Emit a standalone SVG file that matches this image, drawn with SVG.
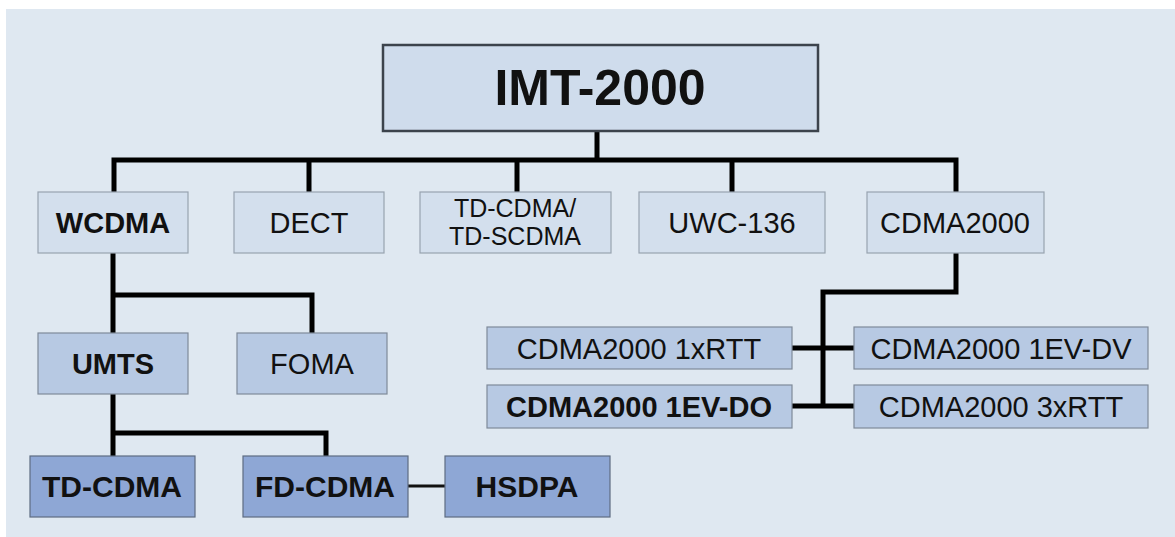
<svg xmlns="http://www.w3.org/2000/svg" width="1175" height="537" viewBox="0 0 1175 537">
<style>
text{font-family:"Liberation Sans",Arial,sans-serif;fill:#111;text-anchor:middle;font-size:29px}
.b{font-weight:bold}
.l1{fill:#cfdcec;stroke:#3c434c;stroke-width:2.5}
.l2{fill:#d3dfed;stroke:#98a3b0;stroke-width:1.2}
.l3{fill:#b7c9e3;stroke:#7f8a99;stroke-width:1.2}
.l4{fill:#8ea7d5;stroke:#5e6c82;stroke-width:1.2}
.c{fill:none;stroke:#000;stroke-width:5;stroke-linejoin:miter;stroke-linecap:butt}
.t{fill:none;stroke:#111;stroke-width:3}
.s4{font-size:30px}
.sm{font-size:25px}
</style>
<rect x="0" y="0" width="1175" height="537" fill="#ffffff"/>
<rect x="6" y="9" width="1169" height="528" fill="#dfe8f1"/>
<g id="connectors">
<path class="c" d="M597 131V160M114 192V160H956V192M309 160V192M517 160V192M732 160V192"/>
<path class="c" d="M113 253V333M113 295H312V333"/>
<path class="c" d="M113 394V456M113 433H326V456"/>
<path class="c" d="M956 253V292H823V406M792 348H854M792 406H854"/>
<path class="t" d="M408 486H445"/>
</g>
<g id="imt2000"><rect class="l1" x="383" y="45" width="435" height="86"/><text class="b" x="600" y="105" style="font-size:50px">IMT-2000</text></g>
<g id="wcdma"><rect class="l2" x="38" y="192" width="150" height="61"/><text class="b" x="113" y="233">WCDMA</text></g>
<g id="dect"><rect class="l2" x="234" y="192" width="150" height="61"/><text x="309" y="233">DECT</text></g>
<g id="tdcdma-tdscdma"><rect class="l2" x="420" y="192" width="191" height="61"/><text class="sm" x="515" y="217">TD-CDMA/</text><text class="sm" x="515" y="245">TD-SCDMA</text></g>
<g id="uwc136"><rect class="l2" x="639" y="192" width="186" height="61"/><text x="732" y="233">UWC-136</text></g>
<g id="cdma2000"><rect class="l2" x="867" y="192" width="177" height="61"/><text x="955" y="233">CDMA2000</text></g>
<g id="umts"><rect class="l3" x="38" y="333" width="150" height="61"/><text class="b" x="113" y="374">UMTS</text></g>
<g id="foma"><rect class="l3" x="237" y="333" width="150" height="61"/><text x="312" y="374">FOMA</text></g>
<g id="td-cdma"><rect class="l4" x="30" y="456" width="165" height="61"/><text class="b s4" x="112" y="497">TD-CDMA</text></g>
<g id="fd-cdma"><rect class="l4" x="243" y="456" width="165" height="61"/><text class="b s4" x="325" y="497">FD-CDMA</text></g>
<g id="hsdpa"><rect class="l4" x="445" y="456" width="165" height="61"/><text class="b s4" x="527" y="497">HSDPA</text></g>
<g id="cdma2000-1xrtt"><rect class="l3" x="487" y="327" width="305" height="42"/><text x="639" y="359">CDMA2000 1xRTT</text></g>
<g id="cdma2000-1ev-do"><rect class="l3" x="487" y="385" width="305" height="43"/><text class="b" x="639" y="417">CDMA2000 1EV-DO</text></g>
<g id="cdma2000-1ev-dv"><rect class="l3" x="854" y="327" width="294" height="42"/><text x="1001" y="359">CDMA2000 1EV-DV</text></g>
<g id="cdma2000-3xrtt"><rect class="l3" x="854" y="385" width="294" height="43"/><text x="1001" y="417">CDMA2000 3xRTT</text></g>
</svg>
